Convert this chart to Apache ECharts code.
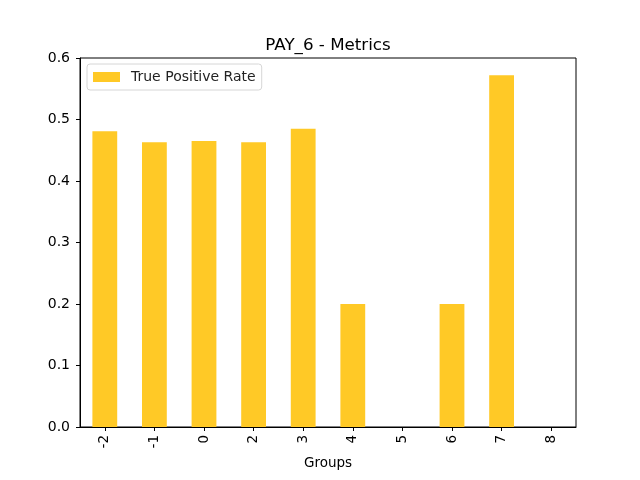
<!DOCTYPE html>
<html><head><meta charset="utf-8">
<script src="https://cdn.jsdelivr.net/npm/echarts@6/dist/echarts.min.js"></script>
<style>html,body{margin:0;padding:0;background:#fff}#c{width:640px;height:480px}</style>
</head><body><div id="c"></div>
<script>
const categories = ["-2","-1","0","2","3","4","5","6","7","8"];
const tprValues = [0.481, 0.463, 0.465, 0.463, 0.485, 0.2, 0, 0.2, 0.572, 0];
const yTicks = [0, 0.1, 0.2, 0.3, 0.4, 0.5, 0.6];
const seriesName = "True Positive Rate";
const titleText = "PAY_6 - Metrics";
const xName = "Groups";

const chart = echarts.init(document.getElementById('c'), null, {renderer:'canvas'});
const font = 'DejaVu Sans';
chart.setOption({
  animation:false,
  textStyle:{fontFamily:font},
  title:{text:titleText,left:328,textAlign:'center',top:37,padding:0,textStyle:{fontFamily:font,fontSize:16.7,fontWeight:'normal',color:'#000'}},
  legend:{data:[seriesName],left:87,top:64,orient:'vertical',itemWidth:27,itemHeight:10,itemGap:5,
    padding:[6,6,6,6],borderColor:'#d6d6d6',borderWidth:1,borderRadius:3,
    textStyle:{fontFamily:font,fontSize:14,color:'#222',padding:[0,0,0,6]},icon:'rect'},
  grid:{left:80,right:64,top:58,bottom:53,show:true,borderColor:'#000',borderWidth:1,backgroundColor:'transparent',outerBoundsMode:'none',containLabel:false},
  xAxis:{type:'category',data:categories,name:xName,nameLocation:'middle',nameGap:29,
    nameTextStyle:{fontFamily:font,fontSize:13.5,color:'#000'},
    axisLine:{show:true,lineStyle:{color:'#000'}},axisTick:{show:true,alignWithLabel:true,length:4,lineStyle:{color:'#000'}},
    axisLabel:{rotate:90,color:'#000',fontSize:13.5,fontFamily:font,margin:8},splitLine:{show:false}},
  yAxis:{type:'value',min:yTicks[0],max:yTicks[yTicks.length-1],interval:0.1,
    axisLine:{show:true,lineStyle:{color:'#000'}},axisTick:{show:true,length:4,lineStyle:{color:'#000'}},
    axisLabel:{color:'#000',fontSize:14,fontFamily:font,margin:10,formatter:v=>v.toFixed(1)},splitLine:{show:false}},
  series:[{name:seriesName,type:'bar',data:tprValues,barWidth:'50%',itemStyle:{color:'#FFC926'}}]
});
</script></body></html>
